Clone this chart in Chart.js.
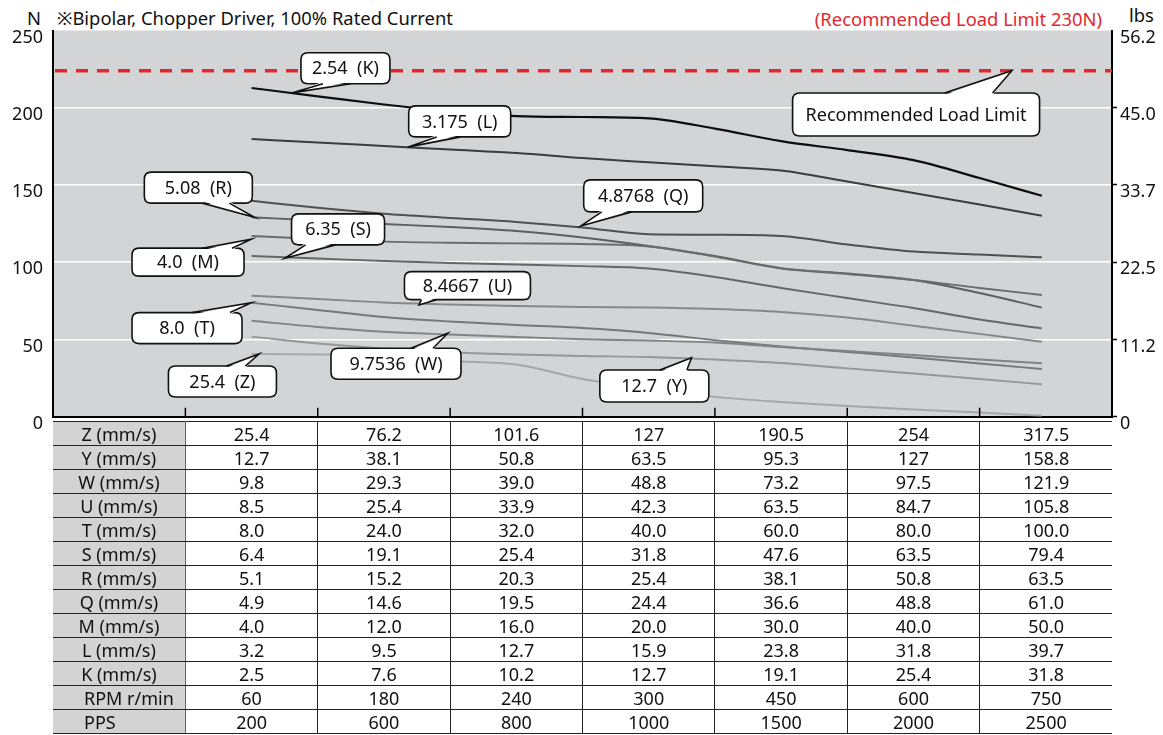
<!DOCTYPE html>
<html>
<head>
<meta charset="utf-8">
<script src="https://cdn.jsdelivr.net/npm/chart.js@4.4.1/dist/chart.umd.min.js"></script>
<style>
  body { margin: 0; background: #fff; }
  #wrap { position: relative; width: 1163px; height: 735px; font-family: 'Noto Sans', sans-serif; }
  .t { position: absolute; font-size: 18.4px; line-height: 24px; color: #111; white-space: nowrap; }
  .red { color: #e0282e; }
  #cw { position: absolute; left: 0; top: 0; width: 1163px; height: 440px; }
  #tbl { position: absolute; left: 53px; top: 421px; width: 1059px; border-collapse: collapse;
         table-layout: fixed; font-size: 18px; color: #111; }
  #tbl td { height: 23px; padding: 0; text-align: center; line-height: 22px;
            border-top: 1px solid #222; border-bottom: 1px solid #222; border-left: 1px solid #222; }
  #tbl td.h { background: #d3d3d3; border-left: none; border-right: 1px solid #666; }
  #tbl td.lft { text-align: left; padding-left: 31px; }
</style>
</head>
<body>
<div id="wrap">
  <div class="t" style="left:27px;top:6px">N</div>
  <div class="t" style="left:57px;top:6px">※Bipolar, Chopper Driver, 100% Rated Current</div>
  <div class="t red" style="right:61px;top:7px">(Recommended Load Limit 230N)</div>
  <div class="t" style="left:1129px;top:3px">lbs</div>
  <div id="cw"><canvas id="c"></canvas></div>
  <table id="tbl"></table>
</div>
<script>
// x positions in table-column units (column 1..7 centres at 1.5..7.5)
const xPos = [1.5, 2, 2.5, 3, 3.5, 4, 4.5, 5, 5.5, 6, 6.5, 7, 7.47];
const colTicks = [1, 2, 3, 4, 5, 6, 7];

// thrust in N
const thrustK = [212.8, 207.4, 202.1, 197.5, 194.6, 194.0, 193.1, 186.5, 178.4, 172.6, 166.1, 154.5, 143.0];
const thrustL = [179.7, 177.5, 175.2, 172.9, 170.7, 167.4, 164.7, 162.1, 159.4, 152.2, 144.8, 137.3, 130.1];
const thrustQ = [139.8, 135.2, 131.4, 128.7, 126.1, 122.5, 118.1, 117.8, 117.0, 111.5, 106.9, 105.0, 103.2];
const thrustR = [129.1, 127.0, 124.7, 122.8, 120.2, 116.0, 110.5, 104.0, 96.2, 92.7, 88.5, 80.1, 70.6];
const thrustM = [117.0, 115.0, 113.3, 112.6, 112.2, 111.8, 110.2, 103.7, 95.9, 92.4, 88.5, 83.3, 78.8];
const thrustS = [104.0, 102.4, 100.8, 99.5, 98.5, 97.5, 95.9, 90.4, 83.3, 76.8, 70.4, 62.9, 57.2];
const thrustU = [78.3, 76.2, 73.9, 72.6, 71.7, 71.0, 70.7, 69.7, 67.8, 64.2, 58.9, 53.6, 48.5];
const thrustT = [73.8, 69.1, 64.5, 61.6, 59.4, 57.4, 54.2, 49.6, 45.4, 41.9, 38.3, 34.4, 30.9];
const thrustW = [62.1, 58.1, 55.0, 53.2, 51.6, 50.1, 49.3, 48.0, 45.1, 42.5, 39.9, 37.0, 34.6];
const thrustY = [51.8, 47.4, 44.1, 41.7, 40.3, 39.3, 38.6, 37.0, 34.8, 31.3, 28.0, 24.4, 21.0];
const thrustZ = [40.6, 40.3, 39.6, 36.1, 33.8, 24.4, 17.9, 12.8, 9.5, 6.9, 4.7, 2.7, 0.6];

const limitN = 224;
const nTicks = [0, 50, 100, 150, 200, 250];
const lbsTicks = ['0', '11.2', '22.5', '33.7', '45.0', '56.2'];

// table
const rowNames = ['Z (mm/s)', 'Y (mm/s)', 'W (mm/s)', 'U (mm/s)', 'T (mm/s)', 'S (mm/s)', 'R (mm/s)',
  'Q (mm/s)', 'M (mm/s)', 'L (mm/s)', 'K (mm/s)', 'RPM r/min', 'PPS'];
const speedZ = ['25.4', '76.2', '101.6', '127', '190.5', '254', '317.5'];
const speedY = ['12.7', '38.1', '50.8', '63.5', '95.3', '127', '158.8'];
const speedW = ['9.8', '29.3', '39.0', '48.8', '73.2', '97.5', '121.9'];
const speedU = ['8.5', '25.4', '33.9', '42.3', '63.5', '84.7', '105.8'];
const speedT = ['8.0', '24.0', '32.0', '40.0', '60.0', '80.0', '100.0'];
const speedS = ['6.4', '19.1', '25.4', '31.8', '47.6', '63.5', '79.4'];
const speedR = ['5.1', '15.2', '20.3', '25.4', '38.1', '50.8', '63.5'];
const speedQ = ['4.9', '14.6', '19.5', '24.4', '36.6', '48.8', '61.0'];
const speedM = ['4.0', '12.0', '16.0', '20.0', '30.0', '40.0', '50.0'];
const speedL = ['3.2', '9.5', '12.7', '15.9', '23.8', '31.8', '39.7'];
const speedK = ['2.5', '7.6', '10.2', '12.7', '19.1', '25.4', '31.8'];
const rpm = ['60', '180', '240', '300', '450', '600', '750'];
const pps = ['200', '600', '800', '1000', '1500', '2000', '2500'];
const rows = [speedZ, speedY, speedW, speedU, speedT, speedS, speedR, speedQ, speedM, speedL, speedK, rpm, pps];

let html = '<colgroup>' + '<col style="width:132.4px">'.repeat(8) + '</colgroup>';
rows.forEach((r, i) => {
  const cls = i >= 11 ? 'h lft' : 'h';
  html += '<tr><td class="' + cls + '">' + rowNames[i] + '</td>' + r.map(v => '<td>' + v + '</td>').join('') + '</tr>';
});
document.getElementById('tbl').innerHTML = html;

// curve styling (lighter first so K ends on top)
const curves = [
  { data: thrustZ, color: '#a6a6a6', width: 1.9 },
  { data: thrustY, color: '#979797', width: 1.9 },
  { data: thrustW, color: '#828282', width: 1.9 },
  { data: thrustT, color: '#777777', width: 1.9 },
  { data: thrustU, color: '#878787', width: 1.9 },
  { data: thrustS, color: '#666666', width: 1.9 },
  { data: thrustM, color: '#6b6b6b', width: 1.9 },
  { data: thrustR, color: '#5e5e5e', width: 1.9 },
  { data: thrustQ, color: '#505050', width: 2 },
  { data: thrustL, color: '#3c3c3c', width: 2 },
  { data: thrustK, color: '#0d0d0d', width: 2.2 }
];

// callouts: box top-left and tip in data units, size in px
const callouts = [
  { text: '2.54  (K)', x: 1.873, y: 235.6, w: 89, h: 31, side: 'bottom', b1: 22, b2: 50, tipX: 1.802, tipY: 209.6 },
  { text: '3.175  (L)', x: 2.687, y: 201.2, w: 102, h: 31, side: 'bottom', b1: 28, b2: 52, tipX: 2.678, tipY: 174.5 },
  { text: 'Recommended Load Limit', x: 5.587, y: 209.5, w: 247, h: 43, side: 'top', b1: 152, b2: 200, tipX: 7.243, tipY: limitN },
  { text: '5.08  (R)', x: 0.690, y: 158.3, w: 108, h: 31, side: 'bottom', b1: 58, b2: 85, tipX: 1.522, tipY: 129.1 },
  { text: '4.8768  (Q)', x: 4.009, y: 153.3, w: 119, h: 32, side: 'bottom', b1: 18, b2: 48, tipX: 3.988, tipY: 123.5 },
  { text: '6.35  (S)', x: 1.802, y: 131.3, w: 93, h: 31, side: 'bottom', b1: 14, b2: 44, tipX: 1.752, tipY: 102.6 },
  { text: '4.0  (M)', x: 0.597, y: 109.1, w: 112, h: 28, side: 'top', b1: 70, b2: 100, tipX: 1.498, tipY: 114.9 },
  { text: '8.4667  (U)', x: 2.655, y: 93.9, w: 126, h: 28, side: 'bottom', b1: 17, b2: 32, tipX: 2.764, tipY: 72.3 },
  { text: '8.0  (T)', x: 0.597, y: 67.4, w: 110, h: 31, side: 'top', b1: 60, b2: 98, tipX: 1.498, tipY: 73.8 },
  { text: '9.7536  (W)', x: 2.100, y: 44.3, w: 130, h: 31, side: 'top', b1: 80, b2: 102, tipX: 2.982, tipY: 54.0 },
  { text: '25.4  (Z)', x: 0.872, y: 32.8, w: 108, h: 31, side: 'top', b1: 58, b2: 77, tipX: 1.556, tipY: 40.6 },
  { text: '12.7  (Y)', x: 4.131, y: 30.2, w: 109, h: 32, side: 'top', b1: 60, b2: 87, tipX: 4.824, tipY: 38.2 }
];

function roundBox(ctx, x, y, w, h, r) {
  ctx.beginPath();
  ctx.moveTo(x + r, y);
  ctx.lineTo(x + w - r, y);
  ctx.quadraticCurveTo(x + w, y, x + w, y + r);
  ctx.lineTo(x + w, y + h - r);
  ctx.quadraticCurveTo(x + w, y + h, x + w - r, y + h);
  ctx.lineTo(x + r, y + h);
  ctx.quadraticCurveTo(x, y + h, x, y + h - r);
  ctx.lineTo(x, y + r);
  ctx.quadraticCurveTo(x, y, x + r, y);
  ctx.closePath();
}

const deco = {
  id: 'deco',
  beforeDraw(chart) {
    const { ctx, chartArea: a } = chart;
    ctx.save();
    ctx.fillStyle = '#d3d4d6';
    ctx.fillRect(a.left, a.top, a.right - a.left, a.bottom - a.top);
    ctx.restore();
  },
  beforeDatasetsDraw(chart) {
    const { ctx, chartArea: a, scales } = chart;
    const y = scales.y.getPixelForValue(limitN);
    ctx.save();
    ctx.strokeStyle = '#e0282e';
    ctx.lineWidth = 3.5;
    ctx.setLineDash([12, 9]);
    ctx.beginPath();
    ctx.moveTo(a.left + 2, y);
    ctx.lineTo(a.right, y);
    ctx.stroke();
    ctx.restore();
  },
  afterDatasetsDraw(chart) {
    const { ctx, chartArea: a, scales } = chart;
    const xs = scales.x, ys = scales.y;
    ctx.save();
    // inward ticks on the bottom axis
    ctx.strokeStyle = '#000';
    ctx.lineWidth = 1.5;
    colTicks.forEach(v => {
      const px = xs.getPixelForValue(v);
      ctx.beginPath();
      ctx.moveTo(px, a.bottom);
      ctx.lineTo(px, a.bottom - 9);
      ctx.stroke();
    });
    // callouts
    ctx.font = '18px "Noto Sans"';
    ctx.textAlign = 'center';
    ctx.textBaseline = 'middle';
    callouts.forEach(c => {
      const bx = xs.getPixelForValue(c.x), by = ys.getPixelForValue(c.y);
      const tx = xs.getPixelForValue(c.tipX), ty = ys.getPixelForValue(c.tipY);
      const ey = c.side === 'bottom' ? by + c.h : by;
      const inw = c.side === 'bottom' ? -2 : 2;
      ctx.lineWidth = 1.6;
      ctx.strokeStyle = '#111';
      ctx.fillStyle = '#fff';
      roundBox(ctx, bx, by, c.w, c.h, 7);
      ctx.fill();
      ctx.stroke();
      ctx.beginPath();
      ctx.moveTo(bx + c.b1, ey + inw);
      ctx.lineTo(tx, ty);
      ctx.lineTo(bx + c.b2, ey + inw);
      ctx.closePath();
      ctx.fill();
      ctx.beginPath();
      ctx.moveTo(bx + c.b1, ey);
      ctx.lineTo(tx, ty);
      ctx.lineTo(bx + c.b2, ey);
      ctx.stroke();
      ctx.fillStyle = '#111';
      ctx.fillText(c.text, bx + c.w / 2, by + c.h / 2 + 1);
    });
    ctx.restore();
  }
};

const tickFont = { family: 'Noto Sans', size: 18 };

new Chart(document.getElementById('c'), {
  type: 'line',
  data: {
    datasets: curves.map(c => ({
      data: xPos.map((x, i) => ({ x: x, y: c.data[i] })),
      borderColor: c.color,
      borderWidth: c.width,
      pointRadius: 0,
      fill: false,
      cubicInterpolationMode: 'monotone'
    }))
  },
  options: {
    responsive: true,
    maintainAspectRatio: false,
    animation: false,
    layout: { padding: { top: 30.5, left: 0, right: 0, bottom: 0 } },
    plugins: { legend: { display: false }, tooltip: { enabled: false } },
    scales: {
      x: {
        type: 'linear', min: 0, max: 8,
        grid: { display: false },
        border: { display: true, color: '#000', width: 2 },
        ticks: { display: false },
        afterFit: s => { s.height = 23.3; }
      },
      y: {
        position: 'left', min: 0, max: 250,
        afterBuildTicks: s => { s.ticks = nTicks.map(v => ({ value: v })); },
        ticks: { padding: 10, labelOffset: 7, color: '#111', font: tickFont },
        grid: {
          color: ctx => (ctx.tick.value > 0 && ctx.tick.value < 250) ? '#ffffff' : 'rgba(0,0,0,0)',
          lineWidth: 1.6, drawTicks: false
        },
        border: { color: '#000', width: 2 },
        afterFit: s => { s.width = 53; }
      },
      y2: {
        position: 'right', min: 0, max: 250,
        afterBuildTicks: s => { s.ticks = nTicks.map(v => ({ value: v })); },
        ticks: {
          padding: 3, labelOffset: 7, color: '#111', font: tickFont,
          callback: v => lbsTicks[nTicks.indexOf(v)]
        },
        grid: {
          drawOnChartArea: false, drawTicks: true, tickLength: 5, tickWidth: 1.5,
          tickColor: ctx => ctx.tick.value === 250 ? 'rgba(0,0,0,0)' : '#000'
        },
        border: { color: '#000', width: 2 },
        afterFit: s => { s.width = 51; }
      }
    }
  },
  plugins: [deco]
});
</script>
</body>
</html>
